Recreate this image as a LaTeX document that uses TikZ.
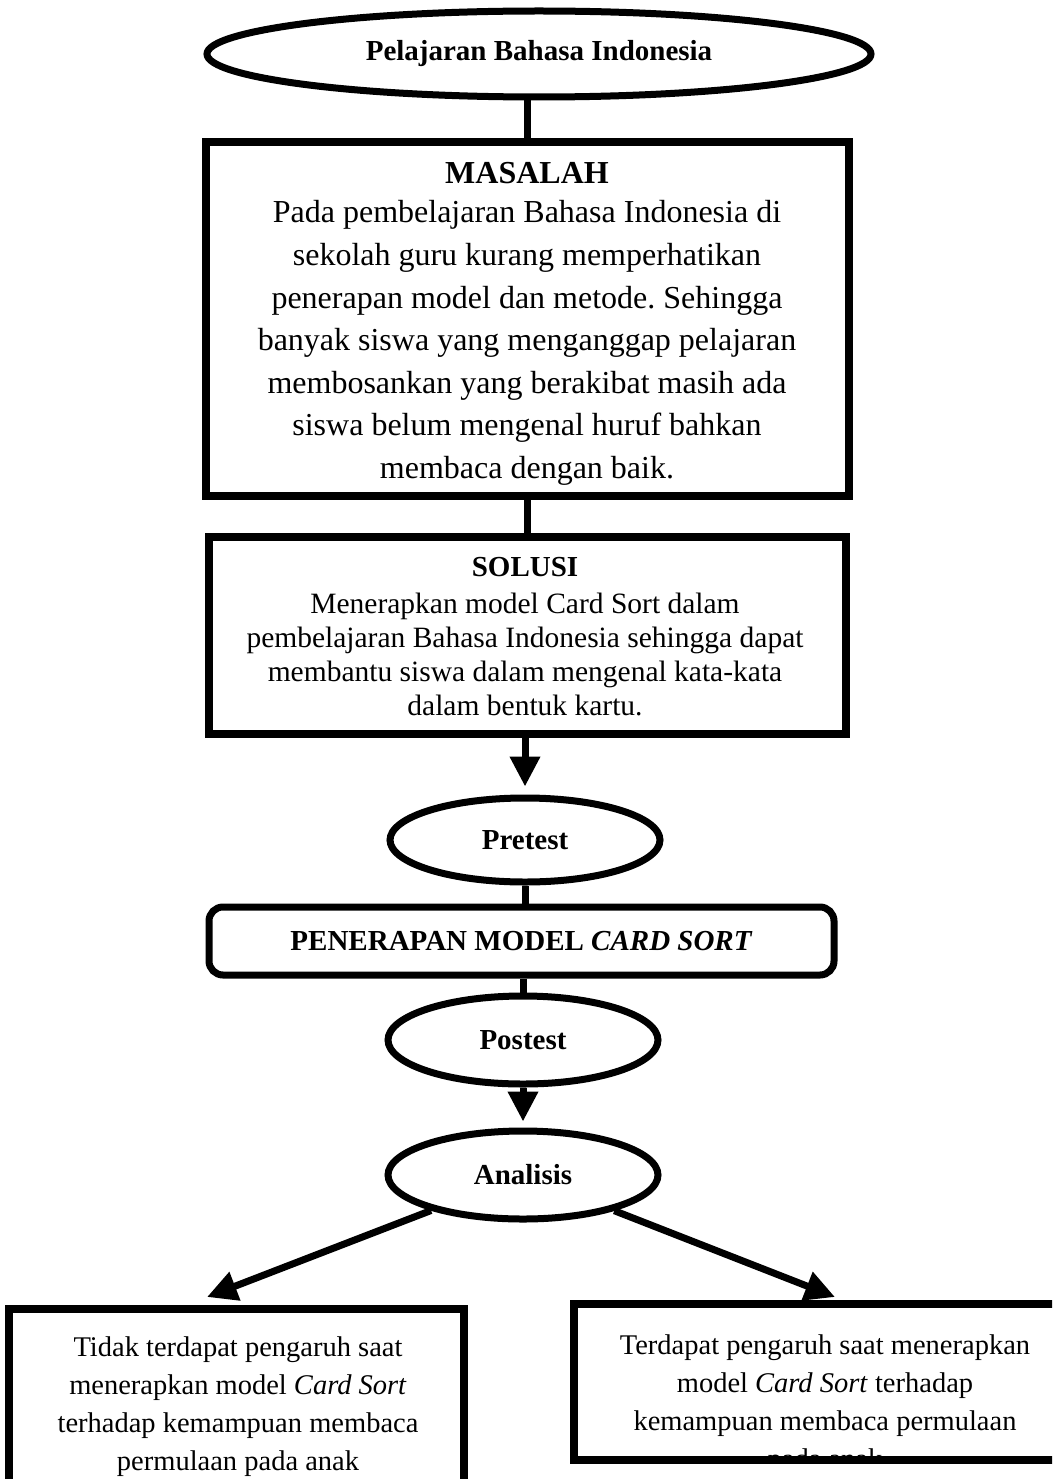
\documentclass[tikz,border=0pt]{standalone}
\usepackage{fontspec}
\setmainfont{Liberation Serif}
\usetikzlibrary{shapes.geometric,arrows.meta}
\frenchspacing
\begin{document}
\begin{tikzpicture}[x=1pt,y=-1pt,
  oval/.style={ellipse, draw, line width=7pt, inner sep=0pt, minimum width=270pt, minimum height=86pt, font=\fontsize{29}{34}\selectfont\bfseries},
  bigbox/.style={rectangle, draw, line width=8pt, inner sep=0pt},
  roundbox/.style={rectangle, rounded corners=14pt, draw, line width=7pt, inner sep=0pt},
  txt/.style={inner sep=0pt, align=center},
  conn/.style={line width=7pt},
  arr/.style={line width=7pt, -{Triangle[length=30pt,width=29pt]}},
]
\fill[white] (0,0) rectangle (1052,1479);
\useasboundingbox (0,0) rectangle (1052,1479);
\clip (0,0) rectangle (1052,1479);

\node[oval, minimum width=664pt, minimum height=86pt] (top) at (539,54) {Pelajaran Bahasa Indonesia};

\node[bigbox, minimum width=643pt, minimum height=354pt] (mbox) at (527.5,319) {};
\node[txt, font=\fontsize{32}{38}\selectfont\bfseries] (mtitle) at (527,173) {MASALAH};
\node[txt, font=\fontsize{32}{42.6}\selectfont] (mbody) at (527,343) {Pada pembelajaran Bahasa Indonesia di\\ sekolah guru kurang memperhatikan\\ penerapan model dan metode. Sehingga\\ banyak siswa yang menganggap pelajaran\\ membosankan yang berakibat masih ada\\ siswa belum mengenal huruf bahkan\\ membaca dengan baik.};

\node[bigbox, minimum width=637pt, minimum height=197pt] (sbox) at (527.5,635.5) {};
\node[txt, font=\fontsize{29}{34}\selectfont\bfseries] (stitle) at (525,567) {SOLUSI};
\node[txt, font=\fontsize{29.5}{34.3}\selectfont] (sbody) at (525,654.5) {Menerapkan model Card Sort dalam\\ pembelajaran Bahasa Indonesia sehingga dapat\\ membantu siswa dalam mengenal kata-kata\\ dalam bentuk kartu.};

\node[oval, minimum height=84pt] (pre) at (525,840) {Pretest};

\node[roundbox, minimum width=625pt, minimum height=68pt, font=\fontsize{29}{34}\selectfont\bfseries] (pen) at (521.5,941) {PENERAPAN MODEL \textit{CARD SORT}};

\node[oval, minimum height=88pt] (post) at (523,1040) {Postest};
\node[oval, minimum height=88pt] (ana) at (523,1175) {Analisis};

\coordinate (ltip) at (207,1297);
\coordinate (rtip) at (835,1297);

\node[bigbox, minimum width=455pt, minimum height=211pt] (lbox) at (236.5,1414.5) {};
\node[txt, font=\fontsize{28.5}{38}\selectfont] (ltext) at (238,1407) {Tidak terdapat pengaruh saat\\ menerapkan model \textit{Card Sort}\\ terhadap kemampuan membaca\\ permulaan pada anak};

\begin{scope}
\clip (578,1308) rectangle (1052,1456);
\node[txt, font=\fontsize{28.5}{38}\selectfont] (rtext) at (825,1404.5) {Terdapat pengaruh saat menerapkan\\ model \textit{Card Sort} terhadap\\ kemampuan membaca permulaan\\ pada anak};
\end{scope}
\node[bigbox, minimum width=486pt, minimum height=156pt] (rbox) at (817,1382) {};

\draw[conn] (top.south -| mbox.north) -- (mbox.north);
\draw[conn] (mbox.south) -- (sbox.north);
\draw[arr, shorten >=8pt] (sbox.south -| pre.north) -- (pre.north);
\draw[conn] (pre.south) -- (pre.south |- pen.north);
\draw[conn] (post.north |- pen.south) -- (post.north);
\draw[arr, shorten >=6pt] (post.south) -- (ana.north);
\draw[arr] (ana) -- (ltip);
\draw[arr] (ana) -- (rtip);
\end{tikzpicture}
\end{document}
